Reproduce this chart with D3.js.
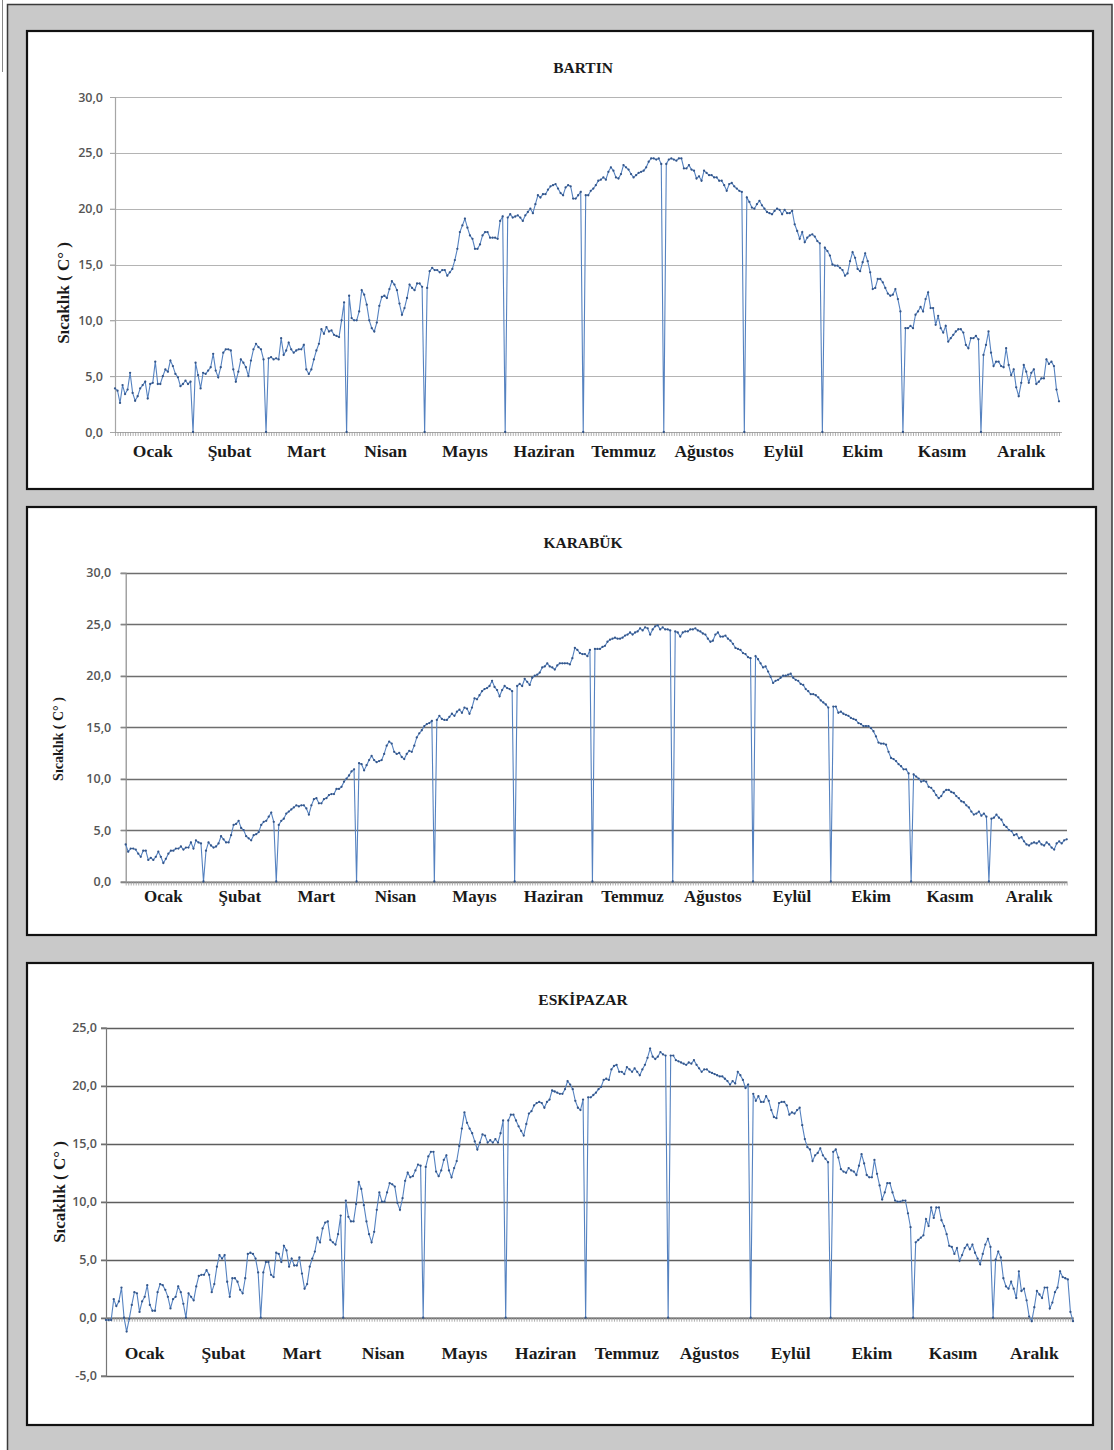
<!DOCTYPE html>
<html><head><meta charset="utf-8">
<script src="https://cdn.jsdelivr.net/npm/d3@7/dist/d3.min.js"></script>
<style>body{margin:0;background:#fff}svg{display:block}</style>
</head><body><svg id="c" width="1114" height="1450"></svg>
<script>
const months = ["Ocak","Şubat","Mart","Nisan","Mayıs","Haziran","Temmuz","Ağustos","Eylül","Ekim","Kasım","Aralık"];
const monthDays = [31,28,31,30,31,30,31,31,30,31,30,31];
const titles = ["BARTIN","KARABÜK","ESKİPAZAR"];
const yAxisTitle = "Sıcaklık ( C° )";
const yTicksBartin = [0,5,10,15,20,25,30];
const yTicksKarabuk = [0,5,10,15,20,25,30];
const yTicksEskipazar = [-5,0,5,10,15,20,25];

// daily values, one row per month; the single 0 after each month is the gap point shown in the original
const bartin = [
 3.9,3.7,2.6,4.2,3.4,3.8,5.3,3.5,2.8,3.2,3.9,4.2,4.5,3.0,4.3,4.4,6.3,4.3,4.3,5.0,5.6,5.4,6.4,5.9,5.2,4.9,4.1,4.3,4.6,4.3,4.5, 0,
 6.2,5.1,3.9,5.3,5.2,5.5,5.8,7.0,5.5,4.9,5.8,7.1,7.4,7.4,7.3,5.6,4.5,5.4,6.5,6.2,5.8,5.0,6.4,7.4,7.9,7.6,7.4,6.5, 0,
 6.6,6.7,6.5,6.6,6.5,8.4,6.9,7.3,8.0,7.4,7.1,7.3,7.4,7.4,7.8,5.6,5.2,5.6,6.5,7.3,7.9,9.2,8.8,9.4,9.0,9.1,8.7,8.6,8.5,10.0,11.6, 0,
 12.2,10.2,10.0,10.0,10.8,12.7,12.3,11.4,10.0,9.3,9.0,9.8,11.3,12.1,12.2,12.0,12.8,13.5,13.2,12.7,11.5,10.5,11.1,12.0,13.2,12.9,12.7,13.3,13.3,13.0, 0,
 12.9,14.4,14.7,14.5,14.5,14.3,14.5,14.5,14.0,14.3,14.6,15.4,16.4,17.9,18.5,19.1,18.3,17.6,17.3,16.4,16.4,16.8,17.6,17.9,17.9,17.4,17.4,17.4,17.3,18.9,19.3, 0,
 19.2,19.5,19.2,19.3,19.4,19.2,18.9,19.4,19.7,20.0,19.6,20.4,21.2,21.0,21.3,21.3,21.7,22.0,22.1,22.2,21.8,21.4,21.2,21.9,22.1,22.0,20.9,20.9,21.2,21.5, 0,
 21.2,21.2,21.6,21.8,22.1,22.5,22.6,22.8,22.6,23.3,23.7,23.4,22.8,22.7,23.1,23.9,23.7,23.5,23.1,22.8,23.0,23.2,23.3,23.4,23.7,24.2,24.5,24.5,24.4,24.5,24.0, 0,
 24.0,24.4,24.5,24.4,24.3,24.5,24.5,23.6,23.6,23.9,23.5,23.4,22.7,22.9,22.5,23.4,23.2,23.0,23.0,22.8,22.8,22.5,22.5,22.1,21.6,22.2,22.3,22.0,21.8,21.6,21.5, 0,
 21.0,20.6,20.1,20.0,20.4,20.7,20.3,20.0,19.7,19.6,19.5,19.8,20.0,19.9,19.5,19.9,19.6,19.6,19.8,18.6,18.0,17.3,17.9,17.0,17.4,17.6,17.7,17.5,17.1,16.9, 0,
 16.5,16.2,15.8,15.0,14.9,14.9,14.7,14.5,14.0,14.2,15.3,16.1,15.6,14.6,14.4,15.2,16.0,15.3,14.3,12.8,12.9,13.7,13.7,13.4,12.9,12.4,12.2,12.3,12.8,11.9,10.8, 0,
 9.3,9.3,9.5,9.3,10.5,10.8,11.2,10.8,11.9,12.5,11.1,11.1,9.6,10.4,9.3,8.9,9.5,8.1,8.4,8.7,9.0,9.2,9.2,8.9,7.8,7.5,8.4,8.4,8.6,8.3, 0,
 6.9,7.8,9.0,7.1,5.9,6.3,6.3,5.9,5.8,7.5,6.0,5.1,5.6,4.0,3.2,4.4,6.0,5.4,4.4,5.3,5.6,4.3,4.5,4.8,4.8,6.5,6.1,6.3,5.9,3.8,2.75
];
const karabuk = [
 3.6,2.9,3.2,3.2,3.1,2.7,2.4,3.0,3.0,2.1,2.3,2.1,2.4,2.9,2.4,1.8,2.2,2.7,3.0,3.0,3.2,3.2,3.4,3.1,3.3,3.3,3.8,3.2,4.0,3.8,3.7, 0,
 3.0,3.8,3.5,3.3,3.4,3.7,4.4,4.1,3.8,3.8,4.5,5.5,5.6,5.9,5.2,5.0,4.4,4.2,4.0,4.5,4.6,4.8,5.5,5.8,5.9,6.3,6.7,5.8, 0,
 5.5,5.9,6.1,6.6,6.8,7.0,7.2,7.4,7.3,7.4,7.4,7.1,6.5,7.4,8.0,8.1,7.6,7.6,8.0,8.1,8.4,8.5,8.5,9.0,9.0,9.2,9.7,10.0,10.3,10.7,10.9, 0,
 11.5,11.4,10.8,11.3,11.8,12.2,11.8,11.6,11.7,11.8,12.4,13.2,13.6,13.4,12.6,12.4,12.5,12.1,11.9,12.4,12.7,12.6,13.2,14.0,14.4,14.7,15.1,15.3,15.4,15.6, 0,
 15.7,16.1,15.8,15.7,15.7,16.0,16.3,16.1,16.5,16.7,16.4,16.9,16.8,16.3,16.9,17.8,17.7,18.1,18.5,18.7,18.8,19.0,19.5,18.9,18.6,18.0,18.6,19.0,18.8,18.7,18.5, 0,
 19.0,19.2,19.0,19.7,19.4,19.1,19.8,20.0,20.1,20.3,20.8,20.9,21.2,20.9,20.8,20.6,21.0,21.2,21.2,21.2,21.2,21.1,21.7,22.7,22.5,22.2,22.1,22.1,21.9,22.5, 0,
 22.6,22.6,22.6,22.8,22.9,23.3,23.5,23.6,23.7,23.6,23.6,23.7,23.9,24.0,24.2,24.0,24.2,24.3,24.6,24.4,24.7,24.6,24.0,24.5,24.8,24.9,24.5,24.7,24.5,24.5,24.4, 0,
 24.3,24.2,23.8,24.2,24.3,24.3,24.5,24.5,24.6,24.4,24.3,24.1,24.0,23.6,23.3,23.4,24.0,24.2,23.8,23.8,23.9,23.6,23.4,23.1,22.7,22.6,22.5,22.2,22.1,21.8,21.7, 0,
 21.9,21.6,21.2,20.8,20.9,20.4,19.9,19.3,19.5,19.6,19.8,20.0,20.0,20.1,20.2,19.8,19.6,19.5,19.2,19.1,18.7,18.5,18.2,18.2,18.1,17.9,17.6,17.4,17.2,16.9, 0,
 17.0,17.0,16.4,16.5,16.3,16.2,16.1,15.9,15.8,15.7,15.4,15.3,15.1,15.1,15.1,14.9,14.6,14.1,13.5,13.4,13.4,13.3,12.6,12.0,11.9,11.7,11.4,11.2,10.9,10.9,10.5, 0,
 10.4,10.2,10.0,9.7,9.8,9.7,9.2,9.1,8.8,8.4,8.1,8.3,8.7,8.9,8.9,8.7,8.6,8.3,8.1,7.8,7.7,7.4,7.2,6.8,6.5,6.6,6.8,6.4,6.6,6.3, 0,
 6.1,6.2,6.5,6.2,6.0,5.5,5.3,5.0,4.9,4.5,4.6,4.2,4.3,3.9,3.6,3.5,3.7,3.8,3.7,3.9,3.6,3.5,3.8,3.6,3.3,3.1,3.7,3.9,3.7,4.0,4.1
];
const eskipazar = [
 -0.2,-0.2,-0.2,1.6,1.0,1.4,2.6,0.0,-1.2,-0.1,1.1,2.2,2.1,0.5,1.4,1.8,2.8,1.1,0.6,0.6,2.2,2.9,2.8,2.4,1.8,0.8,1.6,1.8,2.7,2.2,1.2, 0,
 2.1,1.8,1.5,2.7,3.6,3.7,3.7,4.1,3.7,2.2,2.9,4.4,5.4,5.1,5.4,3.1,1.8,3.4,3.4,3.1,2.4,2.1,3.4,5.5,5.6,5.5,5.1,3.9, 0,
 3.9,4.8,4.8,3.7,3.5,5.6,5.5,4.8,6.2,5.8,4.4,5.1,4.5,4.5,5.2,3.8,2.5,2.9,4.4,5.1,5.7,6.9,6.5,7.7,8.2,8.3,6.7,6.5,6.3,7.2,8.8, 0,
 10.1,8.7,8.3,8.3,9.8,11.7,11.1,9.7,8.3,7.2,6.5,7.4,9.3,10.8,10.0,10.0,10.8,11.6,11.5,11.3,9.9,9.3,10.3,11.8,12.5,12.1,12.2,12.7,13.2,13.1, 0,
 13.0,13.9,14.3,14.3,12.6,12.2,12.7,13.6,14.0,12.7,12.1,12.9,13.5,14.8,16.3,17.7,16.8,16.3,15.9,15.2,14.5,15.1,15.8,15.7,15.1,15.3,15.1,15.4,15.1,15.9,17.0, 0,
 17.0,17.5,17.5,17.0,16.5,16.1,15.7,16.7,17.6,17.8,18.3,18.5,18.6,18.5,18.1,18.6,18.8,19.6,19.5,19.4,19.3,19.3,19.7,20.4,20.1,19.7,18.7,18.1,17.9,18.8, 0,
 19.0,19.0,19.2,19.4,19.7,19.9,20.5,20.6,20.5,21.4,21.7,21.8,21.2,21.2,21.0,21.6,21.4,21.2,21.5,21.2,20.9,21.4,21.8,22.4,23.2,22.5,22.3,22.5,22.9,22.7,22.6, 0,
 22.6,22.6,22.2,22.1,22.0,21.9,21.8,22.0,21.9,22.2,21.8,21.5,21.2,21.4,21.4,21.2,21.1,21.0,20.9,20.8,20.8,20.6,20.4,20.1,20.4,20.2,21.2,20.9,20.5,19.8,20.1, 0,
 19.3,18.7,19.1,18.6,18.6,19.1,18.7,17.9,17.3,17.2,18.5,18.6,18.6,18.3,17.5,17.7,17.6,17.9,18.1,16.6,15.4,14.7,14.5,13.5,14.0,14.2,14.6,14.0,13.7,13.4, 0,
 14.3,14.5,13.8,12.8,12.6,12.5,12.9,12.7,12.6,12.3,13.1,14.1,13.3,12.3,12.1,12.1,13.6,12.4,11.4,10.2,10.8,11.6,11.6,10.8,10.1,10.0,10.0,10.1,10.1,9.0,7.8, 0,
 6.5,6.7,6.9,7.1,8.5,7.9,9.5,8.6,9.5,9.5,8.4,7.9,7.2,6.2,6.1,5.5,6.0,4.9,5.4,6.0,6.3,5.9,6.3,5.6,5.1,4.6,5.5,6.3,6.8,6.1, 0,
 5.0,5.7,5.2,3.4,2.7,2.5,3.1,2.5,1.7,4.0,2.3,2.5,1.5,0.1,-0.3,0.9,2.3,2.0,1.7,2.6,2.6,0.8,1.3,2.2,2.6,4.0,3.5,3.4,3.3,0.5,-0.3
];

const series = [bartin, karabuk, eskipazar];
const tickSets = [yTicksBartin, yTicksKarabuk, yTicksEskipazar];

// layout (pixels) per panel
const layout = [
  {panel:[27,31,1066,458], x:[115,1059], y:[432,97], dom:[0,30], gridRight:1062, grid:"#b4b4b4", gridW:1, axis:"#a6a6a6", labPad:7,
   titleY:73, yl:{x:63,y:293,size:17}, monthY:457, monthSize:17.5},
  {panel:[27,507,1069,428], x:[125.7,1066.7], y:[881.5,572.8], dom:[0,30], gridRight:1067, grid:"#6e6e6e", gridW:1.6, axis:"#8c8c8c", labPad:9.5,
   titleY:548, yl:{x:58,y:739,size:14}, monthY:902, monthSize:17},
  {panel:[27,963,1066,462], x:[106,1073], y:[1375.7,1027.7], dom:[-5,25], gridRight:1074, grid:"#5e5e5e", gridW:1.6, axis:"#777", labPad:4,
   titleY:1005, yl:{x:59,y:1192,size:17}, monthY:1359, monthSize:17.5}
];

const fmt = d => (d < 0 ? "-" : "") + Math.abs(d).toFixed(1).replace(".", ",");

// month centre indices from month lengths (+1 gap point between months)
const monthCenters = [];
{ let s = 0; monthDays.forEach(n => { monthCenters.push(s + (n - 1) / 2); s += n + 1; }); }

const svg = d3.select("#c");
svg.append("rect").attr("x",0).attr("y",0).attr("width",1114).attr("height",1450).attr("fill","#fff");
svg.append("rect").attr("x",7.5).attr("y",4.5).attr("width",1104.5).attr("height",1450)
  .attr("fill","#c9c9c9").attr("stroke","#3a3a3a").attr("stroke-width",1.5);
svg.append("line").attr("x1",2.5).attr("x2",2.5).attr("y1",0).attr("y2",72).attr("stroke","#888").attr("stroke-width",1);

layout.forEach((L, ci) => {
  const data = series[ci];
  const ticks = tickSets[ci];
  const g = svg.append("g");
  const [px, py, pw, ph] = L.panel;
  g.append("rect").attr("x",px).attr("y",py).attr("width",pw).attr("height",ph)
    .attr("fill","#fff").attr("stroke","#111").attr("stroke-width",2.2);

  const xs = d3.scaleLinear().domain([0, data.length - 1]).range(L.x);
  const ys = d3.scaleLinear().domain(L.dom).range(L.y);

  // grid
  g.append("g").selectAll("line").data(ticks).join("line")
    .attr("x1", L.x[0] - 5).attr("x2", L.gridRight)
    .attr("y1", d => Math.round(ys(d)) + 0.5).attr("y2", d => Math.round(ys(d)) + 0.5)
    .attr("stroke", L.grid).attr("stroke-width", L.gridW);

  // y axis
  const ya = g.append("g").attr("transform", `translate(${L.x[0]},0)`)
    .call(d3.axisLeft(ys).tickValues(ticks).tickSize(5).tickPadding(L.labPad).tickFormat(fmt));
  ya.select(".domain").attr("stroke", L.axis).attr("stroke-width", 1.2);
  ya.selectAll(".tick line").attr("stroke", L.axis);
  ya.selectAll("text").attr("font-family","'Open Sans', 'Liberation Sans', sans-serif")
    .attr("font-size", 12.5).attr("font-weight", 600).attr("fill", "#555");

  // x axis at zero with small ticks for every point
  const xa = g.append("g").attr("transform", `translate(0,${ys(0)})`)
    .call(d3.axisBottom(xs).tickValues(d3.range(0, data.length)).tickSize(4).tickSizeOuter(0).tickFormat(""));
  xa.select(".domain").attr("stroke", L.axis).attr("stroke-width", 1.2);
  xa.selectAll(".tick line").attr("stroke", "#9a9a9a").attr("stroke-width", 0.8);

  // series line + markers
  const line = d3.line().x((d, i) => xs(i)).y(d => ys(d));
  g.append("path").datum(data).attr("d", line).attr("fill", "none")
    .attr("stroke", "#5582c0").attr("stroke-width", 1.1);
  g.append("g").selectAll("circle").data(data).join("circle")
    .attr("cx", (d, i) => xs(i)).attr("cy", d => ys(d)).attr("r", 1.15)
    .attr("fill", "#34568a");

  // title
  g.append("text").attr("x", 583).attr("y", L.titleY).attr("text-anchor", "middle")
    .attr("font-family", "'Liberation Serif', serif").attr("font-weight", "bold")
    .attr("font-size", 15.5).attr("fill", "#1a1a1a").text(titles[ci]);

  // y title
  g.append("text").attr("transform", `translate(${L.yl.x},${L.yl.y}) rotate(-90)`)
    .attr("text-anchor", "middle").attr("dominant-baseline", "central")
    .attr("font-family", "'Liberation Serif', serif").attr("font-weight", "bold")
    .attr("font-size", L.yl.size).attr("fill", "#1a1a1a").text(yAxisTitle);

  // month labels
  g.append("g").selectAll("text").data(months).join("text")
    .attr("x", (d, i) => xs(monthCenters[i])).attr("y", L.monthY)
    .attr("text-anchor", "middle")
    .attr("font-family", "'Liberation Serif', serif").attr("font-weight", "bold")
    .attr("font-size", L.monthSize).attr("fill", "#1a1a1a").text(d => d);
});
</script>
</body></html>
